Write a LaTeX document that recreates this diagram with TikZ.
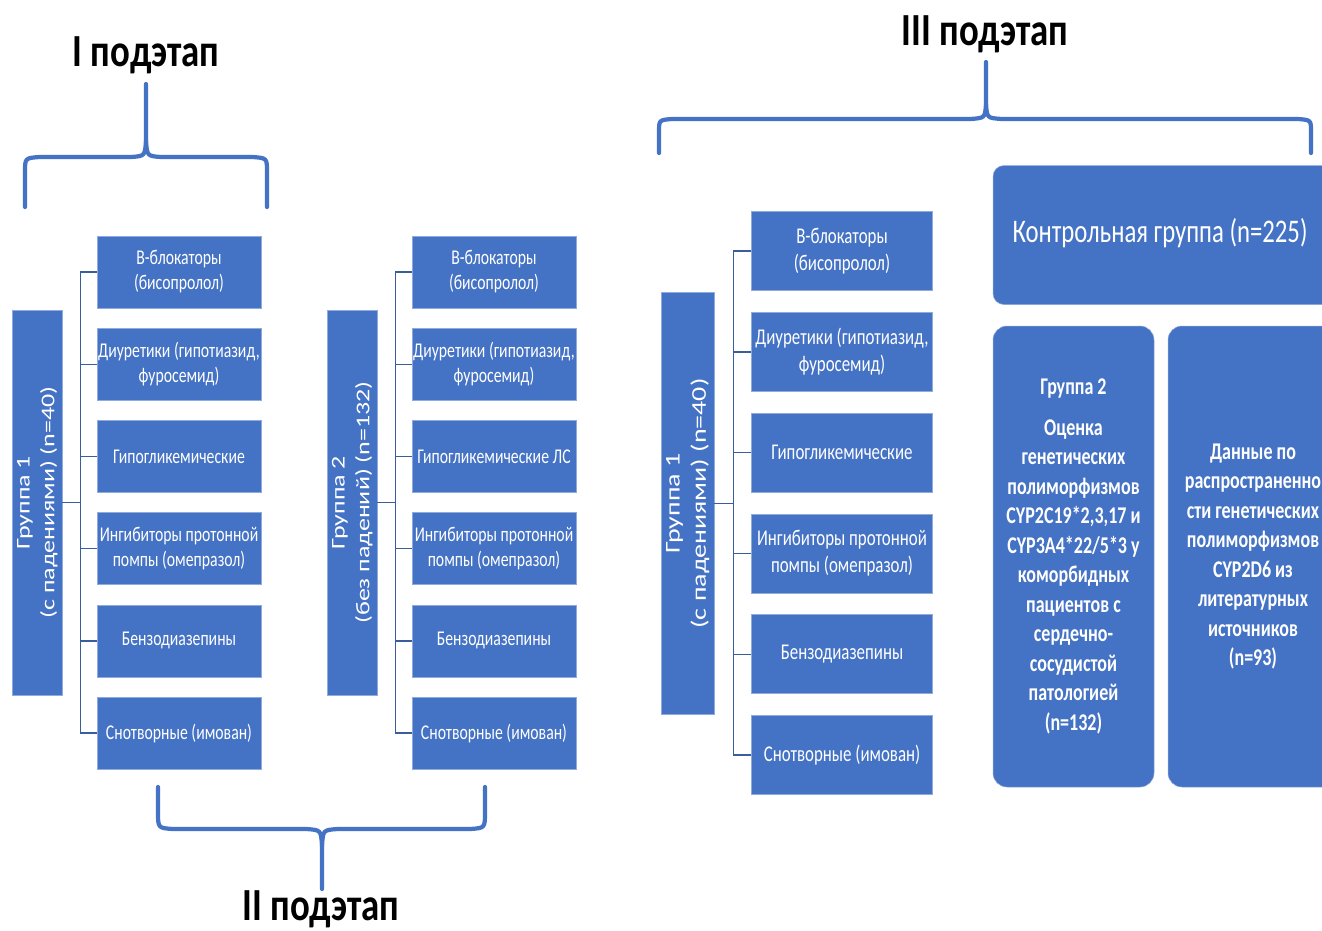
\documentclass[tikz,border=0pt]{standalone}
\usepackage{fontspec}
\usepackage{graphicx}
\setmainfont{Carlito}
\newfontfamily\boxfont[FakeStretch=0.75]{Carlito}
\newfontfamily\headfont[FakeStretch=0.8]{Carlito}
\definecolor{officeblue}{HTML}{4472C4}
\definecolor{edgeblue}{HTML}{8FAADC}
\definecolor{linkblue}{HTML}{3A5D9C}
% rotated group label, squeezed across the lines
\newcommand\grptext[2]{\scalebox{1}[0.75]{\begin{tabular}{@{}c@{}}#1\\#2\end{tabular}}}
\begin{document}
\begin{tikzpicture}[x=1pt,y=-1pt,
  drug/.style={fill=officeblue,draw=edgeblue,line width=0.5pt,text=white,
    minimum width=164,minimum height=72,inner sep=1,align=center,
    font=\boxfont\fontsize{21}{25}\selectfont},
  bigdrug/.style={drug,minimum width=181,minimum height=79,
    font=\boxfont\fontsize{22.5}{27}\selectfont},
  grp/.style={fill=officeblue,draw=edgeblue,line width=0.5pt,text=white,
    rotate=90,minimum width=385,minimum height=50,inner sep=0,
    font=\fontsize{26}{33}\selectfont},
  panel/.style={fill=officeblue,draw=edgeblue,line width=0.5pt,text=white,
    rounded corners=14,inner sep=0,align=center},
  link/.style={draw=linkblue,line width=1.4pt},
  brace/.style={draw=officeblue,line width=4.2pt,line cap=round,line join=round},
  stage/.style={font=\headfont\bfseries\fontsize{46}{50}\selectfont,text=black}]
\clip (0,0) rectangle (1322,930);
\fill[white] (0,0) rectangle (1322,930);

% I podetap
\node[stage] (t1) at (146,55) {I подэтап};
\draw[brace] (25,207) -- (25,172) .. controls (25,158) .. (40,157) -- (131,157)
  .. controls (145,156) .. (146,140) -- (146,84);
\draw[brace] (146,140) .. controls (147,156) .. (161,157) -- (252,157)
  .. controls (267,158) .. (267,172) -- (267,207);

% group 1
\node[grp] (g1) at (37,502.5) {\grptext{Группа 1}{(с падениями) (n=40)}};
\draw[link] (g1.south) -- ++(18,0) coordinate (ja);
\foreach \d [count=\i] in {{В-блокаторы\\(бисопролол)},{Диуретики (гипотиазид,\\фуросемид)},
  {Гипогликемические},{Ингибиторы протонной\\помпы (омепразол)},{Бензодиазепины},
  {Снотворные (имован)}} {
  \node[drug] (a\i) at (179,{272+92.2*(\i-1)}) {\d};
  \draw[link] (ja |- a\i.west) -- (a\i.west);
}
\draw[link] (ja |- a1.west) -- (ja |- a6.west);

% group 2
\node[grp] (g2) at (352,502.5) {\grptext{Группа 2}{(без падений) (n=132)}};
\draw[link] (g2.south) -- ++(18,0) coordinate (jb);
\foreach \d [count=\i] in {{В-блокаторы\\(бисопролол)},{Диуретики (гипотиазид,\\фуросемид)},
  {Гипогликемические ЛС},{Ингибиторы протонной\\помпы (омепразол)},{Бензодиазепины},
  {Снотворные (имован)}} {
  \node[drug] (b\i) at (494,{272+92.2*(\i-1)}) {\d};
  \draw[link] (jb |- b\i.west) -- (b\i.west);
}
\draw[link] (jb |- b1.west) -- (jb |- b6.west);

% II podetap
\draw[brace] (158,787) -- (158,812) .. controls (158,828) .. (173,829) -- (306,829)
  .. controls (321,830) .. (322,846) -- (322,889);
\draw[brace] (322,846) .. controls (323,830) .. (338,829) -- (470,829)
  .. controls (485,828) .. (485,812) -- (485,787);
\node[stage] (t2) at (321,909) {II подэтап};

% III podetap
\node[stage] (t3) at (985,34) {III подэтап};
\draw[brace] (659,153) -- (659,132) .. controls (659,120) .. (672,119) -- (970,119)
  .. controls (985,118) .. (986,104) -- (986,62);
\draw[brace] (986,104) .. controls (987,118) .. (1002,119) -- (1298,119)
  .. controls (1311,120) .. (1311,132) -- (1311,153);

% group 1 again, stage III
\node[grp,minimum width=422,minimum height=53,font=\fontsize{28}{35}\selectfont]
  (g3) at (687.5,503.5) {\grptext{Группа 1}{(с падениями) (n=40)}};
\draw[link] (g3.south) -- ++(19,0) coordinate (jc);
\foreach \d [count=\i] in {{В-блокаторы\\(бисопролол)},{Диуретики (гипотиазид,\\фуросемид)},
  {Гипогликемические},{Ингибиторы протонной\\помпы (омепразол)},{Бензодиазепины},
  {Снотворные (имован)}} {
  \node[bigdrug] (c\i) at (842,{251+100.8*(\i-1)}) {\d};
  \draw[link] (jc |- c\i.west) -- (c\i.west);
}
\draw[link] (jc |- c1.west) -- (jc |- c6.west);

% control panels
\node[panel,minimum width=342,minimum height=139,rounded corners=11] (ctrl) at (1164,235) {};
\node[text=white,font=\boxfont\fontsize{33}{38}\selectfont] at (1160,233)
  {Контрольная группа (n=225)};
\node[panel,minimum width=161,minimum height=461,
  font=\boxfont\bfseries\fontsize{24}{29.5}\selectfont] (gen) at (1073.5,556.5)
  {Группа 2\\[11pt]Оценка\\генетических\\полиморфизмов\\CYP2C19*2,3,17 и\\CYP3A4*22/5*3 у\\коморбидных\\пациентов с\\сердечно-\\сосудистой\\патологией\\(n=132)};
\node[panel,minimum width=170,minimum height=461,
  font=\boxfont\bfseries\fontsize{24}{29.5}\selectfont] (lit) at (1253,556.5)
  {Данные по\\распространенно\\сти генетических\\полиморфизмов\\CYP2D6 из\\литературных\\источников\\(n=93)};
\end{tikzpicture}
\end{document}
